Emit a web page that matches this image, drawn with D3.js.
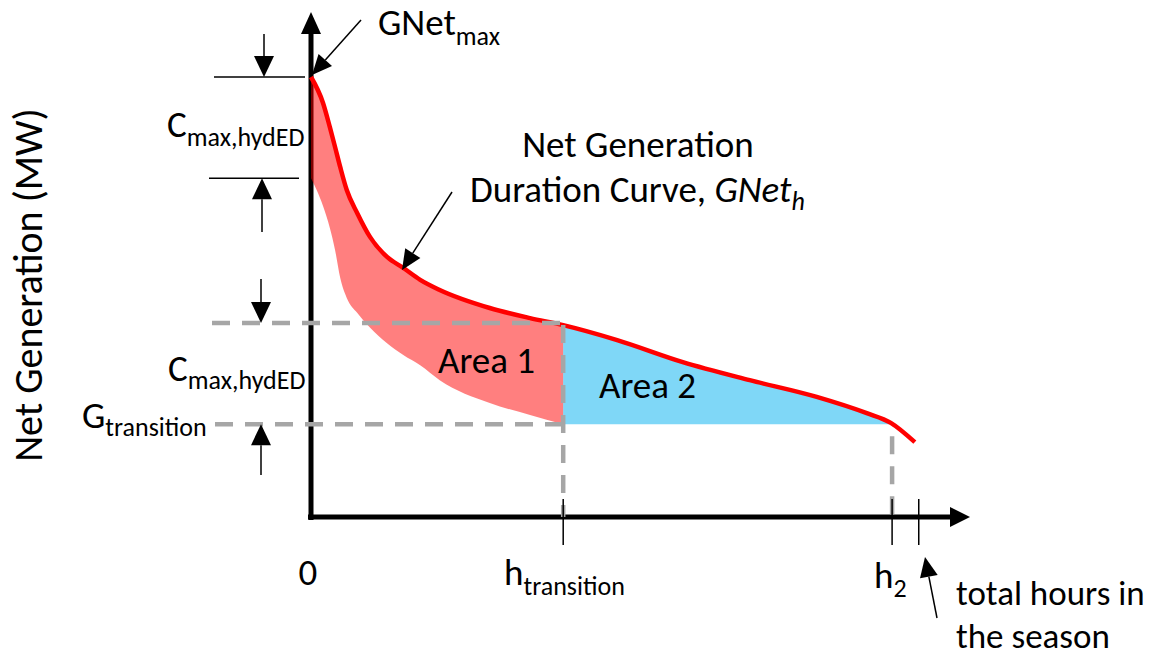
<!DOCTYPE html>
<html>
<head>
<meta charset="utf-8">
<script src="https://cdn.jsdelivr.net/npm/d3@7"></script>
<style>
  body { margin: 0; background: #fff; }
  text { font-family: Carlito, Calibri, Lato, sans-serif; fill: #000; }
</style>
</head>
<body>
<div id="chart"></div>
<script>
var svgWidth = 1163;
var svgHeight = 659;

// net generation duration curve (hours in arbitrary units, MW in % of GNet_max)
var hours  = [0, 1.85, 2.9, 3.7, 4.5, 5.5, 7.1, 9.1, 11.7, 14.2, 16.8, 19.8, 27.5, 33.7, 38.8, 47.1, 57.2, 67.5, 77.8, 85.5, 89.2, 92.9];
var netGen = [100, 94.1, 88.6, 84.1, 79.5, 74.3, 69.1, 63.6, 59.1, 56.6, 53.9, 51.6, 47.5, 45.2, 43.6, 40.2, 35.2, 31.1, 27.3, 23.6, 21.4, 17.0];
// lower edge of Area 1, same hours as above up to h_transition
var area1Low = [77.0, 70.7, 65.7, 60.7, 54.3, 49.8, 46.4, 43.0, 39.5, 36.8, 34.5, 31.1, 25.9, 23.2, 21.1];

var hTransition = 38.8;
var h2 = 89.4;
var hTotal = 93.5;
var gNetMax = 100;
var gTransition = 21.1;
var cMaxHydED = 23.0;

var tickHours = [hTransition, h2, hTotal];
var seasonNote = ["total hours in", "the season"];

var svg = d3.select("#chart")
  .append("svg")
  .attr("width", svgWidth)
  .attr("height", svgHeight);

var x = d3.scaleLinear().domain([0, 100]).range([311, 961]);
var y = d3.scaleLinear().domain([0, 100]).range([517, 77]);

var pts = hours.map(function(h, i) { return {h: h, g: netGen[i], low: area1Low[i]}; });
var iTrans = hours.indexOf(hTransition);
var iEnd = 20; // last point at or before h2

function arrow(g, x1, y1, x2, y2, w, len, half) {
  var a = Math.atan2(y2 - y1, x2 - x1);
  var bx = x2 - len * Math.cos(a), by = y2 - len * Math.sin(a);
  g.append("line")
    .attr("x1", x1).attr("y1", y1).attr("x2", bx).attr("y2", by)
    .attr("stroke", "#000").attr("stroke-width", w);
  var px = -Math.sin(a) * half, py = Math.cos(a) * half;
  g.append("polygon")
    .attr("points", [[x2, y2], [bx + px, by + py], [bx - px, by - py]].join(" "))
    .attr("fill", "#000");
}

// axes
var axes = svg.append("g");
arrow(axes, x(0), y(0) + 3, x(0), 12, 5, 22, 10);
arrow(axes, x(0) - 3, y(0), 970, y(0), 5, 20, 10);

// Area 1 and Area 2
var area = d3.area().curve(d3.curveMonotoneX)
  .x(function(d) { return x(d.h); });

svg.append("path")
  .datum(pts.slice(0, iTrans + 1))
  .attr("d", area.y0(function(d) { return y(d.low); }).y1(function(d) { return y(d.g); }))
  .attr("fill", "#ff0000")
  .attr("fill-opacity", 0.5);

svg.append("path")
  .datum(pts.slice(iTrans, iEnd + 1))
  .attr("d", area.y0(y(gTransition)).y1(function(d) { return y(d.g); }))
  .attr("fill", "#00b0f0")
  .attr("fill-opacity", 0.5);

// duration curve
svg.append("path")
  .datum(pts)
  .attr("d", d3.line().curve(d3.curveMonotoneX)
    .x(function(d) { return x(d.h); })
    .y(function(d) { return y(d.g); }))
  .attr("fill", "none")
  .attr("stroke", "#ff0000")
  .attr("stroke-width", 4.5);

// dashed guides
var dash = svg.append("g")
  .attr("stroke", "#a6a6a6")
  .attr("stroke-width", 4.5)
  .attr("stroke-dasharray", "18,12");
dash.append("line")
  .attr("x1", 212).attr("x2", x(hTransition))
  .attr("y1", y(gTransition + cMaxHydED)).attr("y2", y(gTransition + cMaxHydED));
dash.append("line")
  .attr("x1", 215).attr("x2", x(hTransition))
  .attr("y1", y(gTransition)).attr("y2", y(gTransition));
dash.append("line")
  .attr("x1", x(hTransition)).attr("x2", x(hTransition))
  .attr("y1", y(gTransition + cMaxHydED) + 2).attr("y2", y(0));
dash.append("line")
  .attr("x1", x(h2)).attr("x2", x(h2))
  .attr("y1", y(gTransition) + 12).attr("y2", y(0));

// ticks
svg.append("g").selectAll("line")
  .data(tickHours)
  .enter()
  .append("line")
  .attr("x1", function(d) { return x(d); })
  .attr("x2", function(d) { return x(d); })
  .attr("y1", y(0) - 18)
  .attr("y2", y(0) + 28)
  .attr("stroke", "#000")
  .attr("stroke-width", 1.5);

// dimension marks
var dims = svg.append("g");
dims.append("line").attr("x1", 214).attr("x2", 305)
  .attr("y1", y(gNetMax)).attr("y2", y(gNetMax))
  .attr("stroke", "#000").attr("stroke-width", 1.5);
dims.append("line").attr("x1", 209).attr("x2", 299)
  .attr("y1", y(gNetMax - cMaxHydED)).attr("y2", y(gNetMax - cMaxHydED))
  .attr("stroke", "#000").attr("stroke-width", 1.5);
arrow(dims, 264, 34, 264, y(gNetMax), 1.5, 21, 10);
arrow(dims, 262, 232, 262, y(gNetMax - cMaxHydED), 1.5, 21, 10);
arrow(dims, 261, 279, 261, y(gTransition + cMaxHydED), 1.5, 21, 10);
arrow(dims, 261, 475, 261, y(gTransition), 1.5, 21, 10);

// pointers
arrow(svg, 361, 20, x(0) + 1, y(gNetMax) - 2, 1.5, 20, 9);
arrow(svg, 452, 192, 402, 270, 1.5, 20, 9);
arrow(svg, 937, 618, 925, 557, 1.5, 20, 9);

// labels
var big = 37, small = 26;

function subLabel(px, py, main, sub, drop, anchor) {
  var t = svg.append("text")
    .attr("x", px).attr("y", py)
    .attr("font-size", big)
    .attr("text-anchor", anchor || "start");
  t.append("tspan").text(main);
  t.append("tspan").attr("dy", drop).attr("font-size", small).text(sub);
  return t;
}

subLabel(378, 35, "GNet", "max", 10);
subLabel(167, 137, "C", "max,hydED", 9);
subLabel(168, 381, "C", "max,hydED", 8);
subLabel(82, 428, "G", "transition", 8);
subLabel(504, 585, "h", "transition", 10);
subLabel(874, 588, "h", "2", 9);

svg.append("text")
  .attr("x", x(0) - 3).attr("y", 585)
  .attr("font-size", big)
  .attr("text-anchor", "middle")
  .text("0");

svg.append("text")
  .attr("x", 638).attr("y", 157)
  .attr("font-size", big)
  .attr("text-anchor", "middle")
  .text("Net Generation");

var dc = svg.append("text")
  .attr("x", 470).attr("y", 202)
  .attr("font-size", big);
dc.append("tspan").text("Duration Curve, ");
dc.append("tspan").attr("font-style", "italic").text("GNet");
dc.append("tspan").attr("font-style", "italic").attr("font-size", small).attr("dy", 8).text("h");

svg.append("text").attr("x", 438).attr("y", 373).attr("font-size", big).text("Area 1");
svg.append("text").attr("x", 599).attr("y", 398).attr("font-size", big).text("Area 2");

svg.append("text")
  .attr("x", 956).attr("y", 605)
  .attr("font-size", 35)
  .selectAll("tspan")
  .data(seasonNote)
  .enter()
  .append("tspan")
  .attr("x", 956)
  .attr("dy", function(d, i) { return i === 0 ? 0 : 43; })
  .text(function(d) { return d; });

svg.append("text")
  .attr("transform", "translate(42, 285) rotate(-90)")
  .attr("font-size", 40)
  .attr("text-anchor", "middle")
  .text("Net Generation (MW)");
</script>
</body>
</html>
